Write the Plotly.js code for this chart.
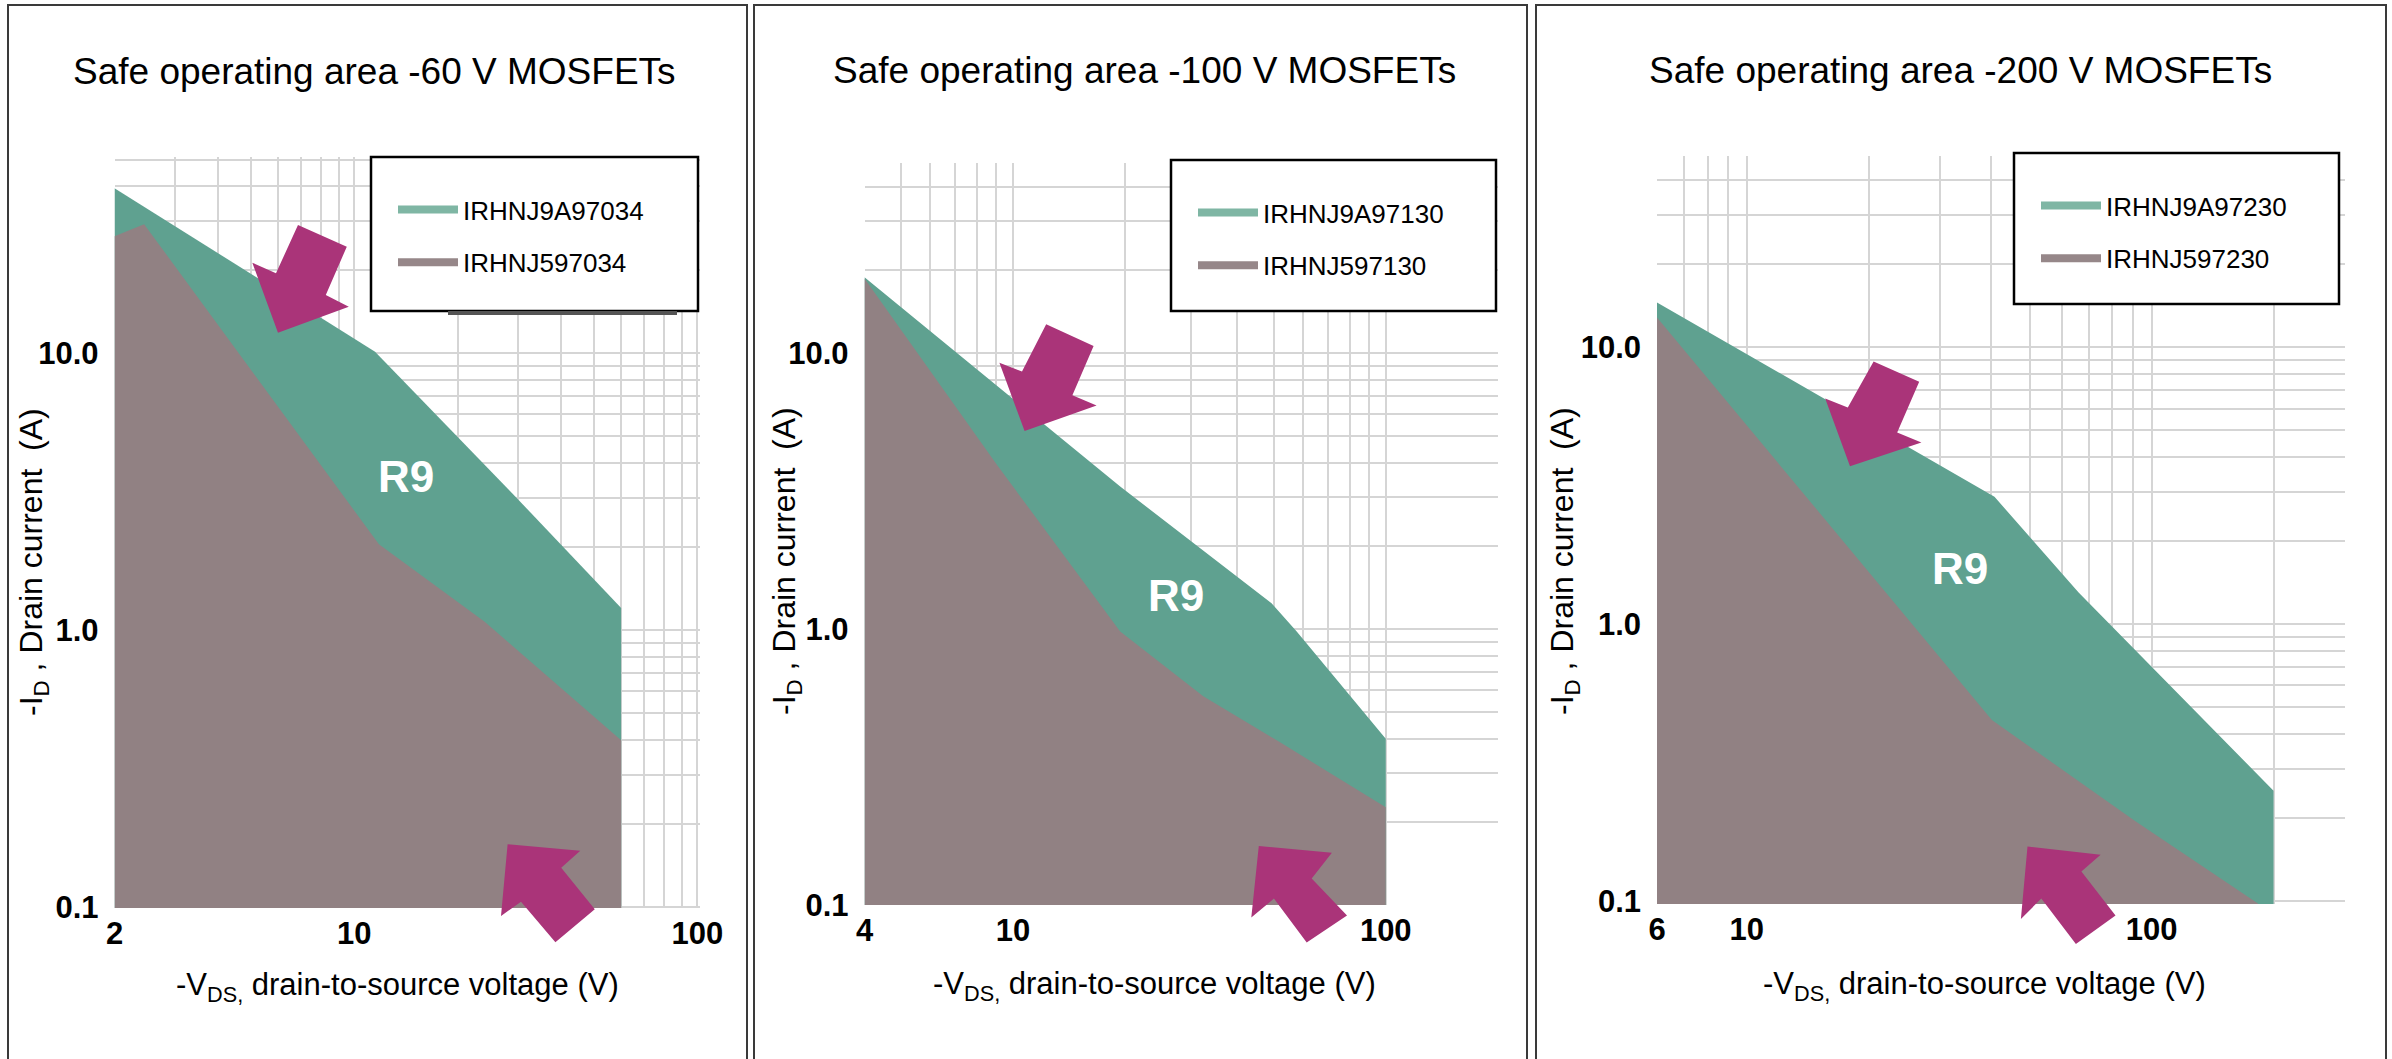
<!DOCTYPE html>
<html>
<head>
<meta charset="utf-8">
<script src="https://cdn.plot.ly/plotly-3.0.1.min.js"></script>
<style>
html,body{margin:0;padding:0;background:#fff;}
#chart{width:2392px;height:1059px;}
</style>
</head>
<body>
<div id="chart"></div>
<script>
// ================= DATA =================
const panelTitles = ['Safe operating area -60 V MOSFETs', 'Safe operating area -100 V MOSFETs', 'Safe operating area -200 V MOSFETs'];
const r9Names = ['IRHNJ9A97034', 'IRHNJ9A97130', 'IRHNJ9A97230'];
const r5Names = ['IRHNJ597034', 'IRHNJ597130', 'IRHNJ597230'];
const regionLabel = 'R9';

// -60 V
const vds60_R9 = [2, 11.5, 29, 60];
const id60_R9  = [39.4, 10.1, 3.1, 1.2];
const vds60_R5 = [2, 2.44, 11.8, 24, 60];
const id60_R5  = [26.4, 29.2, 2.04, 1.07, 0.40];

// -100 V
const vds100_R9 = [4, 19.4, 49.4, 57.7, 100];
const id100_R9  = [18.8, 3.28, 1.24, 0.98, 0.40];
const vds100_R5 = [4, 9.1, 19.4, 32.4, 51.8, 100];
const id100_R5  = [18.6, 3.9, 0.98, 0.57, 0.39, 0.226];

// -200 V
const vds200_R9 = [6, 40.9, 66, 200];
const id200_R9  = [14.5, 2.88, 1.3, 0.25];
const vds200_R5 = [6, 40.3, 90.8, 183];
const id200_R5  = [12.8, 0.45, 0.195, 0.098];

// shaded regions extend down to this current (below the visible axis)
const idFloor = 0.01;

const xTickVals = [[2, 10, 100], [4, 10, 100], [6, 10, 100]];
const xTickText = [['2', '10', '100'], ['4', '10', '100'], ['6', '10', '100']];
const yTickVals = [0.1, 1, 10];
const yTickText = ['0.1', '1.0', '10.0'];

const xTitle = '-V<sub>DS,</sub> drain-to-source voltage (V)';
const yTitle = '-I<sub>D</sub> , Drain current\u00a0 (A)';

// ================= STYLE / LAYOUT =================
const W = 2392, H = 1059;
const px = v => v / W;
const py = v => 1 - v / H;

const TEAL = '#5fa190', MAUVE = '#918183';
const TEAL_LEG = '#7fb6a4', MAUVE_LEG = '#968789';
const ARROW = '#aa3479';
const GRID = '#d5d5d5';
const FONT = 'Liberation Sans, Arial, Helvetica, sans-serif';

const geo = [
  {l: 114.5, r: 700, t: 157, b: 908, xr: [Math.log10(2), 2.008], yr: [-1.004, 1.708],
   border: [8, 747], title: [374, 72], r9: [406, 476], leg: [371, 157, 698, 311],
   xt: [397, 987], yt: [33, 562]},
  {l: 864.5, r: 1498, t: 163, b: 905, xr: [Math.log10(4), Math.log10(200)], yr: [-1.0, 1.688],
   border: [754, 1527], title: [1144, 70], r9: [1176, 595], leg: [1171, 160, 1496, 311],
   xt: [1154, 986], yt: [786, 561]},
  {l: 1657, r: 2345, t: 156, b: 904, xr: [Math.log10(6), 2.4775], yr: [-1.011, 1.69],
   border: [1536, 2386], title: [1960, 70], r9: [1960, 568], leg: [2014, 153, 2339, 304],
   xt: [1984, 986], yt: [1564, 561]}
];

const series = [
  [vds60_R9, id60_R9, vds60_R5, id60_R5],
  [vds100_R9, id100_R9, vds100_R5, id100_R5],
  [vds200_R9, id200_R9, vds200_R5, id200_R5]
];

function logGrid(loLog, hiLog) {
  const out = [];
  for (let k = Math.floor(loLog) - 1; k <= Math.ceil(hiLog); k++) {
    for (let d = 1; d <= 9; d++) {
      const v = d * Math.pow(10, k);
      const lv = Math.log10(v);
      if (lv >= loLog - 1e-6 && lv <= hiLog + 1e-6) out.push(v);
    }
  }
  return out;
}

function area(xs, ys) {
  return {x: xs.concat([xs[xs.length - 1], xs[0]]), y: ys.concat([idFloor, idFloor])};
}

const traces = [];
const layout = {
  width: W, height: H, autosize: false,
  margin: {l: 0, r: 0, t: 0, b: 0, pad: 0},
  paper_bgcolor: '#ffffff', plot_bgcolor: 'rgba(0,0,0,0)',
  font: {family: FONT, color: '#000'},
  showlegend: true,
  shapes: [], annotations: []
};

geo.forEach((g, i) => {
  const n = i === 0 ? '' : String(i + 1);
  const xa = 'x' + n, ya = 'y' + n;
  const legName = 'legend' + n;
  const [vR9, iR9, vR5, iR5] = series[i];

  const a9 = area(vR9, iR9);
  traces.push({x: a9.x, y: a9.y, xaxis: xa, yaxis: ya, type: 'scatter', mode: 'lines',
    fill: 'toself', fillcolor: TEAL, line: {width: 0, color: TEAL}, showlegend: false, hoverinfo: 'skip'});
  const a5 = area(vR5, iR5);
  traces.push({x: a5.x, y: a5.y, xaxis: xa, yaxis: ya, type: 'scatter', mode: 'lines',
    fill: 'toself', fillcolor: MAUVE, line: {width: 0, color: MAUVE}, showlegend: false, hoverinfo: 'skip'});

  // legend entries
  traces.push({x: [null], y: [null], xaxis: xa, yaxis: ya, type: 'scatter', mode: 'lines',
    line: {color: TEAL_LEG, width: 8}, name: r9Names[i], legend: legName, legendgroup: 'g9' + i});
  traces.push({x: [null], y: [null], xaxis: xa, yaxis: ya, type: 'scatter', mode: 'lines',
    line: {color: MAUVE_LEG, width: 8}, name: r5Names[i], legend: legName, legendgroup: 'g5' + i});

  layout['xaxis' + n] = {
    type: 'log', range: g.xr, domain: [px(g.l), px(g.r)], anchor: ya,
    tickmode: 'array', tickvals: xTickVals[i], ticktext: xTickText[i],
    tickfont: {family: FONT, size: 31, color: '#000', weight: 700},
    ticks: '', ticklabelstandoff: 4,
    showline: false, zeroline: false,
    showgrid: true, gridcolor: GRID, gridwidth: 2,
    minor: {tickmode: 'array', tickvals: logGrid(g.xr[0], g.xr[1]), showgrid: true, gridcolor: GRID, gridwidth: 2, ticks: ''},
    fixedrange: true
  };
  layout['yaxis' + n] = {
    type: 'log', range: g.yr, domain: [py(g.b), py(g.t)], anchor: xa,
    tickmode: 'array', tickvals: yTickVals, ticktext: yTickText,
    tickfont: {family: FONT, size: 31, color: '#000', weight: 700},
    ticks: '', ticklabelstandoff: 15,
    showline: false, zeroline: false,
    showgrid: true, gridcolor: GRID, gridwidth: 2,
    minor: {tickmode: 'array', tickvals: logGrid(g.yr[0], g.yr[1]), showgrid: true, gridcolor: GRID, gridwidth: 2, ticks: ''},
    fixedrange: true
  };

  layout[legName] = {
    x: px(g.leg[0] + 22), y: py(g.leg[1] + 29), xanchor: 'left', yanchor: 'top',
    bgcolor: 'rgba(0,0,0,0)', borderwidth: 0,
    font: {family: FONT, size: 26, color: '#000'},
    itemwidth: 60, tracegroupgap: 16, traceorder: 'grouped'
  };

  // panel frame
  layout.shapes.push({type: 'rect', xref: 'paper', yref: 'paper',
    x0: px(g.border[0]), x1: px(g.border[1]), y0: py(H + 20), y1: py(5),
    line: {color: '#3a3a3a', width: 2}, fillcolor: 'rgba(0,0,0,0)', layer: 'above'});
  // legend box
  layout.shapes.push({type: 'rect', xref: 'paper', yref: 'paper',
    x0: px(g.leg[0]), x1: px(g.leg[2]), y0: py(g.leg[3]), y1: py(g.leg[1]),
    line: {color: '#000', width: 2.5}, fillcolor: '#ffffff', layer: 'above'});

  // panel title
  layout.annotations.push({text: panelTitles[i], xref: 'paper', yref: 'paper',
    x: px(g.title[0]), y: py(g.title[1]), xanchor: 'center', yanchor: 'middle',
    showarrow: false, font: {family: FONT, size: 37, color: '#000'}});
  // axis titles
  layout.annotations.push({text: xTitle, xref: 'paper', yref: 'paper',
    x: px(g.xt[0]), y: py(g.xt[1]), xanchor: 'center', yanchor: 'middle',
    showarrow: false, font: {family: FONT, size: 31, color: '#000'}});
  layout.annotations.push({text: yTitle, xref: 'paper', yref: 'paper', textangle: -90,
    x: px(g.yt[0]), y: py(g.yt[1]), xanchor: 'center', yanchor: 'middle',
    showarrow: false, font: {family: FONT, size: 32, color: '#000'}});
  // R9 label
  layout.annotations.push({text: regionLabel, xref: 'paper', yref: 'paper',
    x: px(g.r9[0]), y: py(g.r9[1]), xanchor: 'center', yanchor: 'middle',
    showarrow: false, font: {family: FONT, size: 44, color: '#ffffff', weight: 700}});
});

// shadow line under the first legend box
layout.shapes.push({type: 'line', xref: 'paper', yref: 'paper',
  x0: px(448), x1: px(677), y0: py(313), y1: py(313), line: {color: '#555', width: 4}, layer: 'above'});

// block arrows (pixel outlines)
const arrows = [
  [[298,225],[346.8,246.7],[325.8,295],[348.8,306.7],[278,332.7],[252.3,262.7],[276,273.3]],
  [[507.6,844.3],[580.3,850.7],[561.2,867.7],[594.8,909.3],[555.4,942.3],[521,901.7],[501,916]],
  [[1046.2,324.3],[1093.6,345.9],[1072.4,395.3],[1096.6,405.4],[1024.6,431.1],[999.4,362.8],[1022,371.6]],
  [[1258.8,846],[1331.9,852.7],[1311.7,878.4],[1347,915.5],[1306.7,942.6],[1273.9,898.6],[1251.3,917.6]],
  [[1873.6,361.5],[1919.2,381.8],[1897.2,432.4],[1921.4,442.6],[1850,466.2],[1825.2,398.6],[1847.8,407.4]],
  [[2027.5,846.6],[2100.6,854.7],[2081.4,871.6],[2115.5,915.5],[2075.9,943.9],[2041.3,898.6],[2020.9,918.9]]
];
arrows.forEach(pts => {
  const d = pts.map((p, k) => (k === 0 ? 'M' : 'L') + px(p[0]).toFixed(5) + ',' + py(p[1]).toFixed(5)).join(' ') + ' Z';
  layout.shapes.push({type: 'path', xref: 'paper', yref: 'paper', path: d,
    fillcolor: ARROW, line: {color: ARROW, width: 0}, layer: 'above'});
});

Plotly.newPlot('chart', traces, layout, {staticPlot: true, displayModeBar: false});
</script>
</body>
</html>
